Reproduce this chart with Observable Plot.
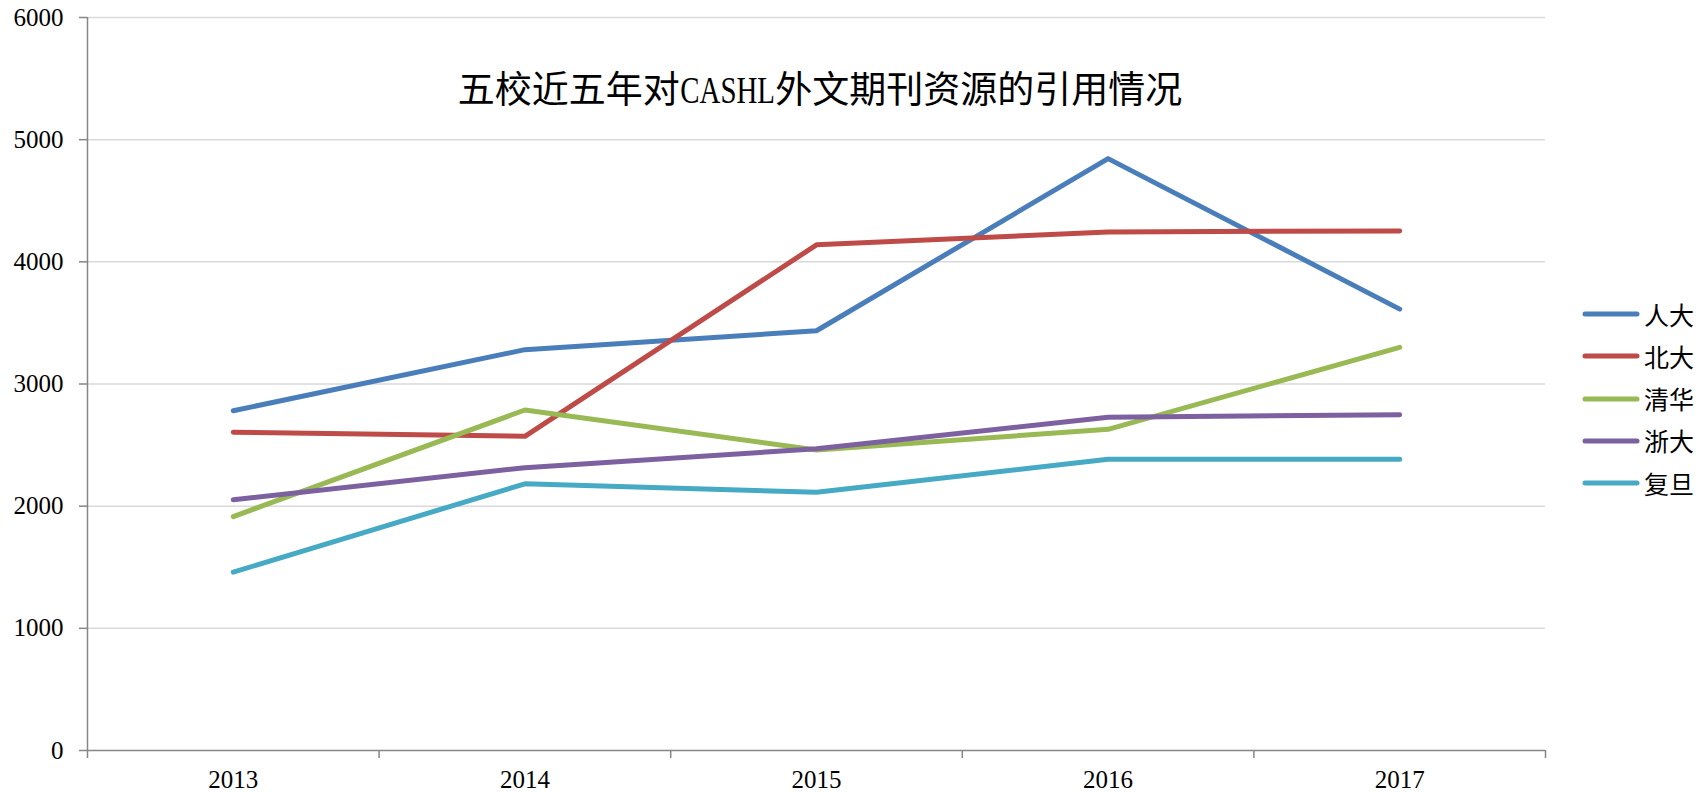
<!DOCTYPE html>
<html>
<head>
<meta charset="utf-8">
<script src="https://cdn.jsdelivr.net/npm/d3@7"></script>
<script src="https://cdn.jsdelivr.net/npm/@observablehq/plot@0.6"></script>
<style>
  html, body { margin: 0; padding: 0; background: #fff; }
  #wrap { position: relative; width: 1700px; height: 792px; overflow: hidden; }
  #title {
    position: absolute; left: 0; width: 1640px; top: 68px; height: 38px; line-height: 38px;
    text-align: center; font-family: "Noto Sans CJK SC", sans-serif; font-size: 37px; color: #000;
    white-space: nowrap;
  }
  #title .latin {
    display: inline-block; font-family: "Liberation Serif", serif; transform: scaleX(0.78);
    margin: 0 -13px; 
  }
  #legend { position: absolute; left: 1582px; top: 293px; }
  .row { display: flex; align-items: center; height: 42.25px; }
  .row span { margin-left: 4px; font-family: "Noto Sans CJK SC", sans-serif; font-size: 25px; color: #000; line-height: 1; }
</style>
</head>
<body>
<div id="wrap">
  <div id="chart"></div>
  <div id="title"></div>
  <div id="legend"></div>
</div>
<script>
// ---- data ----
const years = [2013, 2014, 2015, 2016, 2017];
const schools = ["人大", "北大", "清华", "浙大", "复旦"];
const renda   = [2781, 3281, 3436, 4845, 3613];
const beida   = [2605, 2572, 4139, 4245, 4253];
const qinghua = [1915, 2787, 2460, 2629, 3300];
const zheda   = [2052, 2315, 2470, 2728, 2749];
const fudan   = [1460, 2183, 2114, 2384, 2384];
const yTicks = [0, 1000, 2000, 3000, 4000, 5000, 6000];
const titleParts = ["五校近五年对", "CASHL", "外文期刊资源的引用情况"];
const colors = ["#4A7EBB", "#BE4B48", "#98B954", "#7D60A0", "#46AAC5"];

const series = [renda, beida, qinghua, zheda, fudan];
const data = schools.flatMap((s, j) => years.map((y, i) => ({ year: y, school: s, value: series[j][i] })));
// category boundaries for the x-axis tick marks
const boundaries = years.map(y => y - 0.5).concat([years[years.length - 1] + 0.5]);

const axisGray = "#868686";

const plot = Plot.plot({
  width: 1700,
  height: 792,
  marginLeft: 87,
  marginRight: 155,
  marginTop: 17,
  marginBottom: 42,
  x: { type: "linear", domain: [boundaries[0], boundaries[boundaries.length - 1]] },
  y: { domain: [0, 6000] },
  color: { domain: schools, range: colors },
  style: { fontFamily: "'Liberation Serif', serif", fontSize: "25px", color: "#000", background: "#fff" },
  marks: [
    Plot.gridY(yTicks.slice(1), { stroke: "#d9d9d9", strokeOpacity: 1, strokeWidth: 1.5 }),
    Plot.axisY(yTicks, {
      tickSize: 8, tickPadding: 16, stroke: axisGray, strokeWidth: 1.5, fill: "#000",
      tickFormat: d => String(d), label: null, fontSize: 25
    }),
    Plot.axisX(boundaries, { tickSize: 8, stroke: axisGray, strokeWidth: 1.5, tickFormat: () => "", label: null }),
    Plot.axisX(years, { tickSize: 0, tickPadding: 20, fill: "#000", tickFormat: d => String(d), label: null, fontSize: 25 }),
    Plot.ruleX([boundaries[0]], { stroke: axisGray, strokeWidth: 1.5 }),
    Plot.ruleY([0], { stroke: axisGray, strokeWidth: 1.5 }),
    Plot.line(data, {
      x: "year", y: "value", z: "school", stroke: "school",
      strokeWidth: 5, strokeLinecap: "round", strokeLinejoin: "round"
    })
  ]
});
document.getElementById("chart").appendChild(plot);

// title
const t = document.getElementById("title");
t.innerHTML = "";
t.appendChild(document.createTextNode(titleParts[0]));
const lat = document.createElement("span");
lat.className = "latin";
lat.textContent = titleParts[1];
t.appendChild(lat);
t.appendChild(document.createTextNode(titleParts[2]));

// legend
const lg = document.getElementById("legend");
schools.forEach((s, i) => {
  const row = document.createElement("div");
  row.className = "row";
  row.innerHTML = `<svg width="58" height="10"><line x1="3" y1="5" x2="55" y2="5" stroke="${colors[i]}" stroke-width="5" stroke-linecap="round"/></svg><span>${s}</span>`;
  lg.appendChild(row);
});
</script>
</body>
</html>
